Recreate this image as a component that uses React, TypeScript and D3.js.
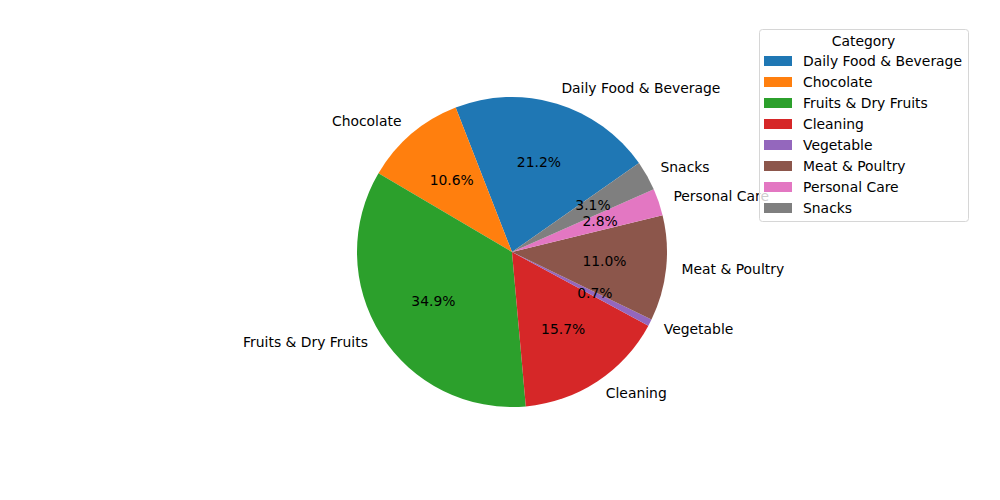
import { useEffect, useRef } from 'react'
import * as d3 from 'd3'

const categories = [
  'Daily Food & Beverage',
  'Chocolate',
  'Fruits & Dry Fruits',
  'Cleaning',
  'Vegetable',
  'Meat & Poultry',
  'Personal Care',
  'Snacks',
]
const shares = [21.2, 10.6, 34.9, 15.7, 0.7, 11.0, 2.8, 3.1]
const colors = ['#1f77b4', '#ff7f0e', '#2ca02c', '#d62728', '#9467bd', '#8c564b', '#e377c2', '#7f7f7f']
const legendTitle = 'Category'

export default function App() {
  const svgRef = useRef<SVGSVGElement | null>(null)

  useEffect(() => {
    document.body.style.margin = '0'
    const W = 1000
    const H = 500
    const cx = 512
    const cy = 252
    const r = 155
    const font = 'DejaVu Sans, sans-serif'
    const fs = 13.9

    const svg = d3.select(svgRef.current)
    svg.selectAll('*').remove()
    svg.attr('width', W).attr('height', H)
    svg.append('rect').attr('width', W).attr('height', H).attr('fill', '#fff')

    // matplotlib-style: start at ~35deg from +x axis, counterclockwise
    const start = Math.PI / 2 - (35 * Math.PI) / 180
    const pie = d3.pie<number>().sort(null).value((d) => d)
      .startAngle(start).endAngle(start - 2 * Math.PI)
    const arcs = pie(shares)

    const arc = d3.arc<d3.PieArcDatum<number>>().innerRadius(0).outerRadius(r)
    const labelArc = d3.arc<d3.PieArcDatum<number>>().innerRadius(r * 1.1).outerRadius(r * 1.1)
    const pctArc = d3.arc<d3.PieArcDatum<number>>().innerRadius(r * 0.6).outerRadius(r * 0.6)

    const g = svg.append('g').attr('transform', `translate(${cx},${cy})`)

    g.selectAll('path.slice')
      .data(arcs)
      .join('path')
      .attr('class', 'slice')
      .attr('d', arc)
      .attr('fill', (_, i) => colors[i])

    g.selectAll('text.lbl')
      .data(arcs)
      .join('text')
      .attr('class', 'lbl')
      .attr('x', (d) => labelArc.centroid(d)[0])
      .attr('y', (d) => labelArc.centroid(d)[1] - 1)
      .attr('text-anchor', (d) => (labelArc.centroid(d)[0] >= 0 ? 'start' : 'end'))
      .attr('dominant-baseline', 'central')
      .attr('font-family', font).attr('font-size', fs).attr('fill', '#000')
      .text((_, i) => categories[i])

    g.selectAll('text.pct')
      .data(arcs)
      .join('text')
      .attr('class', 'pct')
      .attr('x', (d) => pctArc.centroid(d)[0])
      .attr('y', (d) => pctArc.centroid(d)[1] - 1)
      .attr('text-anchor', 'middle')
      .attr('dominant-baseline', 'central')
      .attr('font-family', font).attr('font-size', fs).attr('fill', '#000')
      .text((d) => `${d.data.toFixed(1)}%`)

    // legend
    const lx = 759
    const ly = 29
    const lw = 209
    const lh = 192
    const leg = svg.append('g')
    leg.append('rect')
      .attr('x', lx + 0.5).attr('y', ly + 0.5).attr('width', lw).attr('height', lh)
      .attr('rx', 3).attr('fill', '#fff').attr('fill-opacity', 0.8)
      .attr('stroke', '#d6d6d6').attr('stroke-width', 1)
    leg.append('text')
      .attr('x', lx + lw / 2).attr('y', 41)
      .attr('text-anchor', 'middle').attr('dominant-baseline', 'central')
      .attr('font-family', font).attr('font-size', fs).attr('fill', '#000')
      .text(legendTitle)
    const rowY = d3.scaleLinear().domain([0, categories.length - 1]).range([61, 208])
    categories.forEach((c, i) => {
      const y = rowY(i)
      leg.append('rect')
        .attr('x', 764).attr('y', y - 5).attr('width', 28).attr('height', 10)
        .attr('fill', colors[i])
      leg.append('text')
        .attr('x', 803).attr('y', y)
        .attr('dominant-baseline', 'central')
        .attr('font-family', font).attr('font-size', fs).attr('fill', '#000')
        .text(c)
    })
  }, [])

  return <svg ref={svgRef} style={{ display: 'block' }} />
}
